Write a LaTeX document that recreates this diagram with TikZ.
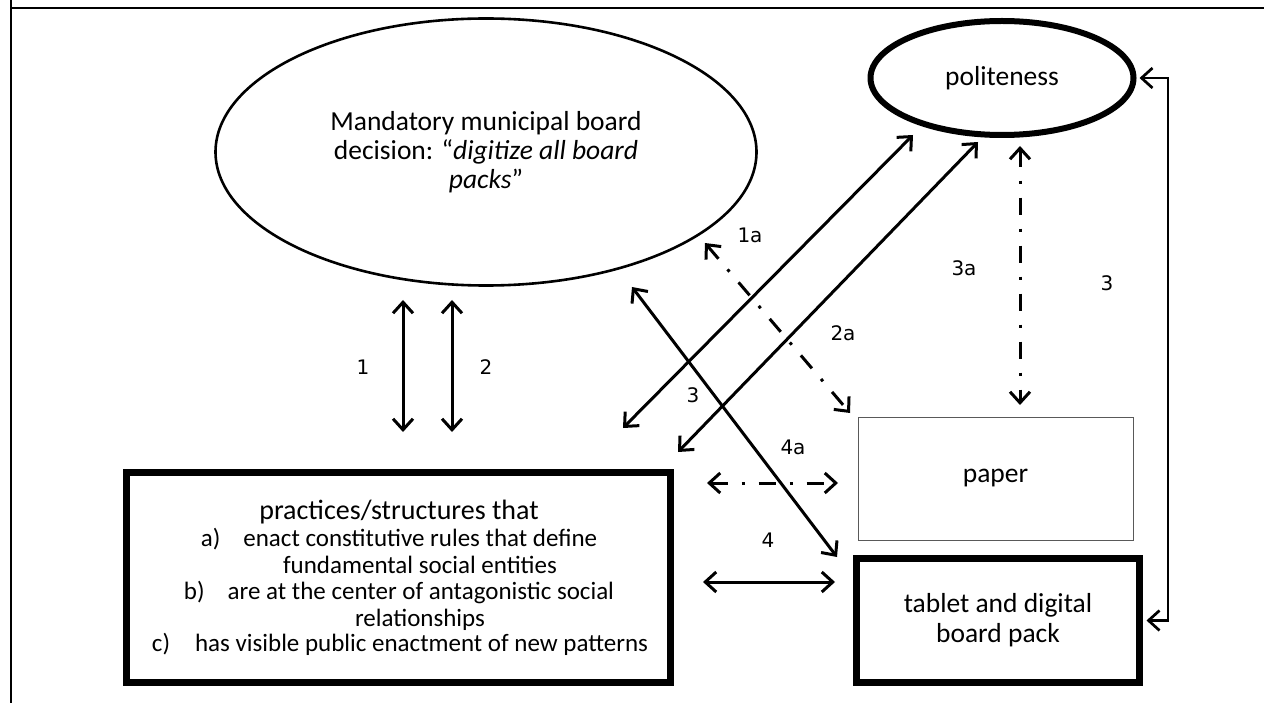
\documentclass[tikz,border=0pt]{standalone}
\usepackage{fontspec}
\setmainfont{Carlito}
\newfontfamily\labelfont{DejaVu Sans}
\usetikzlibrary{arrows.meta,shapes.geometric}

\begin{document}
\begin{tikzpicture}[x=1pt,y=-1pt,
  >={Straight Barb[length=11pt,width=20pt]},
  link/.style={line width=3pt,<->},
  dashlink/.style={link,dash pattern=on 17pt off 14pt on 3pt off 14pt},
  num/.style={font=\labelfont\fontsize{20}{24}\selectfont,inner sep=0pt},
  body/.style={font=\fontsize{27.5}{29}\selectfont,align=center,inner sep=0pt},
  listline/.style={font=\fontsize{25}{27}\selectfont,inner sep=0pt,anchor=base},
  thickbox/.style={draw,line width=7pt,inner sep=0pt},
]
\useasboundingbox (0,0) rectangle (1264,703);

% cell frame
\draw[line width=2.5pt] (11,0) -- (11,703);
\draw[line width=2.5pt] (11,8) -- (1264,8);

% shapes
\node[draw,ellipse,line width=2.6pt,minimum width=541pt,minimum height=267pt,body]
  (decision) at (486,152)
  {Mandatory municipal board\\decision: “\textit{digitize all board}\\\textit{packs}”};
\node[draw,ellipse,line width=6pt,minimum width=263pt,minimum height=114pt,body]
  (polite) at (1002,78) {politeness};
\node[draw=black!65,line width=1pt,minimum width=275pt,minimum height=123pt,body]
  (paper) at (995.5,478.5) {paper};
\node[thickbox,minimum width=283pt,minimum height=124pt,body,
  font=\fontsize{27.5}{30}\selectfont]
  (tablet) at (998,620.5) {tablet and digital\\board pack};
\node[thickbox,minimum width=544pt,minimum height=210pt] (practice) at (398.5,577.5) {};

% list inside the practices box
\node[listline,font=\fontsize{28}{30}\selectfont] (l1) at (399,519) {practices/structures that};
\node[listline] (l2) at (399,546) {a)\hspace{23pt}enact constitutive rules that define};
\node[listline] (l3) at (420,573) {fundamental social entities};
\node[listline] (l4) at (399,599) {b)\hspace{23pt}are at the center of antagonistic social};
\node[listline] (l5) at (420,626) {relationships};
\node[listline] (l6) at (400,651) {c)\hspace{25pt}has visible public enactment of new patterns};

% free ends of the connectors
\coordinate (v1t) at (403,300);  \coordinate (v1b) at (403,432);
\coordinate (v2t) at (452,300);  \coordinate (v2b) at (452,432);
\coordinate (aLo) at (623,428);  \coordinate (aHi) at (913,135);
\coordinate (bLo) at (678,452);  \coordinate (bHi) at (978,142);
\coordinate (cHi) at (705,243);  \coordinate (cLo) at (850,413);
\coordinate (dHi) at (632,287);  \coordinate (dLo) at (837,557);
\coordinate (eHi) at (1020,146); \coordinate (eLo) at (1020,405);
\coordinate (fL) at (707,483);   \coordinate (fR) at (838,483);
\coordinate (gL) at (703,582);   \coordinate (gR) at (835,582);
\coordinate (bend) at (1168,620.5);

% connectors
\draw[link] (v1t) -- (v1b);
\draw[link] (v2t) -- (v2b);
\draw[link] (aLo) -- (aHi);
\draw[link] (bLo) -- (bHi);
\draw[dashlink] (cHi) -- (cLo);
\draw[link] (dHi) -- (dLo);
\draw[dashlink] (eHi) -- (eLo);
\draw[dashlink] (fL) -- (fR);
\draw[link] (gL) -- (gR);
\draw[line width=2.7pt,<->] ([xshift=3.5pt]tablet.east) -- (bend) |- ([xshift=3pt]polite.east);

% connector labels
\node[num] (n1) at (363,367) {1};
\node[num] (n2) at (486,367) {2};
\node[num] (n1a) at (750,235) {1a};
\node[num] (n2a) at (843,333) {2a};
\node[num] (n3a) at (964,268) {3a};
\node[num] (n3r) at (1107,283) {3};
\node[num] (n3m) at (693,395) {3};
\node[num] (n4a) at (793,447) {4a};
\node[num] (n4) at (768,540) {4};
\end{tikzpicture}
\end{document}
